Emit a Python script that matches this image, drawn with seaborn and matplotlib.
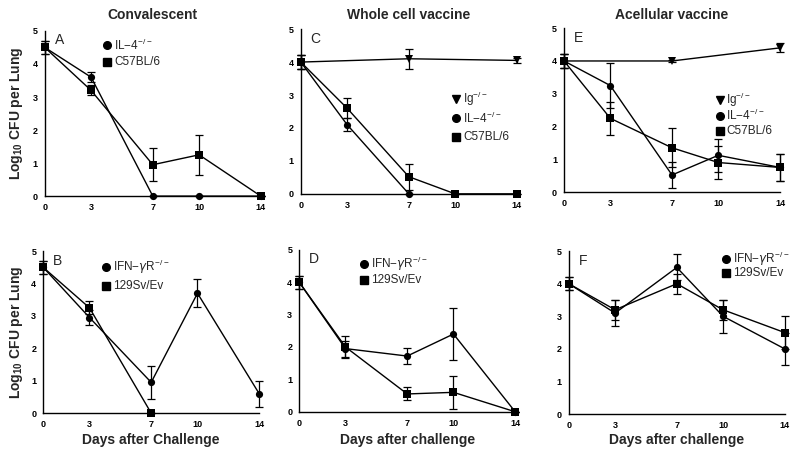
"""
Lung CFU after challenge: convalescent, whole cell and acellular vaccine groups.
"""

import numpy as np
import pandas as pd
import matplotlib.pyplot as plt
import seaborn as sns

days = [0, 3, 7, 10, 14]
nan = np.nan

# Panel A - convalescent, C57BL/6 background
a_il4 = [4.5, 3.6, 0.0, 0.0, 0.0]
a_il4_err = [0.2, 0.15, 0.0, 0.0, 0.0]
a_c57 = [4.5, 3.2, 0.95, 1.25, 0.0]
a_c57_err = [0.2, 0.15, 0.5, 0.6, 0.0]

# Panel B - convalescent, 129Sv/Ev background
b_ifn = [4.5, 2.95, 0.95, 3.7, 0.6]
b_ifn_err = [0.2, 0.22, 0.5, 0.43, 0.4]
b_sv = [4.5, 3.25, 0.0, nan, nan]
b_sv_err = [0.2, 0.2, 0.0, nan, nan]

# Panel C - whole cell vaccine
c_ig = [4.0, nan, 4.1, nan, 4.05]
c_ig_err = [0.2, nan, 0.3, nan, 0.08]
c_il4 = [4.0, 2.1, 0.0, nan, nan]
c_il4_err = [0.2, 0.2, 0.0, nan, nan]
c_c57 = [4.0, 2.6, 0.52, 0.0, 0.0]
c_c57_err = [0.2, 0.3, 0.4, 0.0, 0.0]

# Panel D - whole cell vaccine, IFN-gR
d_ifn = [4.0, 1.95, 1.72, 2.4, 0.0]
d_ifn_err = [0.2, 0.25, 0.25, 0.8, 0.0]
d_sv = [4.0, 2.0, 0.55, 0.6, 0.0]
d_sv_err = [0.2, 0.33, 0.2, 0.5, 0.0]

# Panel E - acellular vaccine
e_ig = [4.0, nan, 4.0, nan, 4.4]
e_ig_err = [0.2, nan, 0.04, nan, 0.14]
e_il4 = [4.0, 3.25, 0.52, 1.12, 0.75]
e_il4_err = [0.2, 0.7, 0.4, 0.5, 0.4]
e_c57 = [4.0, 2.25, 1.35, 0.9, 0.75]
e_c57_err = [0.2, 0.5, 0.6, 0.5, 0.4]

# Panel F - acellular vaccine, IFN-gR
f_ifn = [4.0, 3.1, 4.5, 3.0, 2.0]
f_ifn_err = [0.2, 0.4, 0.4, 0.5, 0.5]
f_sv = [4.0, 3.2, 4.0, 3.2, 2.5]
f_sv_err = [0.2, 0.3, 0.3, 0.3, 0.5]

lbl_ig = r'Ig$^{-/-}$'
lbl_il4 = r'IL$-$4$^{-/-}$'
lbl_c57 = 'C57BL/6'
lbl_ifn = r'IFN$-\gamma$R$^{-/-}$'
lbl_sv = '129Sv/Ev'

markers = {lbl_ig: 'v', lbl_il4: 'o', lbl_c57: 's', lbl_ifn: 'o', lbl_sv: 's'}

col_titles = ['Convalescent', 'Whole cell vaccine', 'Acellular vaccine']


def build_frame(series):
    rows = []
    for label, vals, errs in series:
        for d, v, e in zip(days, vals, errs):
            rows.append({'Day': d, 'CFU': v, 'Err': e, 'Group': label})
    return pd.DataFrame(rows).dropna()


def draw_panel(ax, letter, series, legend_xy, legend_gap):
    df = build_frame(series)
    sns.lineplot(data=df, x='Day', y='CFU', hue='Group', style='Group',
                 markers=markers, dashes=False, palette=['black'] * len(series),
                 markersize=5.2, linewidth=1.0, markeredgewidth=0,
                 legend=False, ax=ax, clip_on=False, zorder=3)
    for label, _, _ in series:
        sub = df[df['Group'] == label]
        ax.errorbar(sub['Day'], sub['CFU'], yerr=sub['Err'], fmt='none',
                    ecolor='black', elinewidth=0.9, capsize=3, capthick=0.9,
                    clip_on=False, zorder=2)
    ax.set_xlim(0, 14)
    ax.set_ylim(0, 5)
    ax.set_xticks(days)
    ax.set_yticks(range(6))
    ax.tick_params(direction='out', length=3, width=0.8, labelsize=6.5,
                   colors='black', pad=2)
    for t in ax.get_xticklabels() + ax.get_yticklabels():
        t.set_fontweight('bold')
    for s in ['top', 'right']:
        ax.spines[s].set_visible(False)
    for s in ['left', 'bottom']:
        ax.spines[s].set_linewidth(1.0)
        ax.spines[s].set_color('black')
    ax.set_xlabel('')
    ax.set_ylabel('')
    ax.text(0.045, 0.985, letter, transform=ax.transAxes, fontsize=10,
            va='top', ha='left')

    # legend drawn as marker + text rows
    lx, ly = legend_xy
    for i, (label, _, _) in enumerate(series):
        y = ly - i * legend_gap
        ax.plot([lx], [y], marker=markers[label], color='black', markersize=5.5,
                transform=ax.transAxes, clip_on=False, linestyle='none')
        ax.text(lx + 0.032, y, label, transform=ax.transAxes, fontsize=8.5,
                va='center', ha='left')


sns.set_style('white')
plt.rcParams['font.family'] = ['Liberation Sans', 'DejaVu Sans']
plt.rcParams['mathtext.fontset'] = 'custom'
plt.rcParams['mathtext.rm'] = 'Liberation Sans'
plt.rcParams['mathtext.bf'] = 'Liberation Sans:bold'

fig = plt.figure(figsize=(8, 4.55), dpi=100)

W = 0.27
ax_a = fig.add_axes([0.056, 0.569, W, 0.363])
ax_c = fig.add_axes([0.376, 0.574, W, 0.362])
ax_e = fig.add_axes([0.705, 0.578, W, 0.360])
ax_b = fig.add_axes([0.054, 0.092, W, 0.356])
ax_d = fig.add_axes([0.374, 0.095, W, 0.356])
ax_f = fig.add_axes([0.711, 0.090, W, 0.358])

draw_panel(ax_a, 'A', [(lbl_il4, a_il4, a_il4_err), (lbl_c57, a_c57, a_c57_err)],
           (0.29, 0.915), 0.105)
draw_panel(ax_b, 'B', [(lbl_ifn, b_ifn, b_ifn_err), (lbl_sv, b_sv, b_sv_err)],
           (0.29, 0.905), 0.12)
draw_panel(ax_c, 'C', [(lbl_ig, c_ig, c_ig_err), (lbl_il4, c_il4, c_il4_err),
                       (lbl_c57, c_c57, c_c57_err)],
           (0.72, 0.575), 0.115)
draw_panel(ax_d, 'D', [(lbl_ifn, d_ifn, d_ifn_err), (lbl_sv, d_sv, d_sv_err)],
           (0.30, 0.91), 0.095)
draw_panel(ax_e, 'E', [(lbl_ig, e_ig, e_ig_err), (lbl_il4, e_il4, e_il4_err),
                       (lbl_c57, e_c57, e_c57_err)],
           (0.72, 0.56), 0.095)
draw_panel(ax_f, 'F', [(lbl_ifn, f_ifn, f_ifn_err), (lbl_sv, f_sv, f_sv_err)],
           (0.73, 0.95), 0.085)

for ax, title in zip([ax_a, ax_c, ax_e], col_titles):
    pos = ax.get_position()
    fig.text(pos.x0 + pos.width / 2, 1 - 15 / 455, title, ha='center',
             va='center', fontsize=10, fontweight='bold')

for ax in [ax_a, ax_b]:
    pos = ax.get_position()
    fig.text(0.021, pos.y0 + pos.height / 2, r'Log$_{\mathbf{10}}$ CFU per Lung',
             rotation=90, ha='center', va='center', fontsize=10,
             fontweight='bold')

for ax, xl in zip([ax_b, ax_d, ax_f], ['Days after Challenge', 'Days after challenge',
                                       'Days after challenge']):
    pos = ax.get_position()
    fig.text(pos.x0 + pos.width / 2, 1 - 440 / 455, xl, ha='center',
             va='center', fontsize=10, fontweight='bold')

fig.savefig('out.png', dpi=100)
